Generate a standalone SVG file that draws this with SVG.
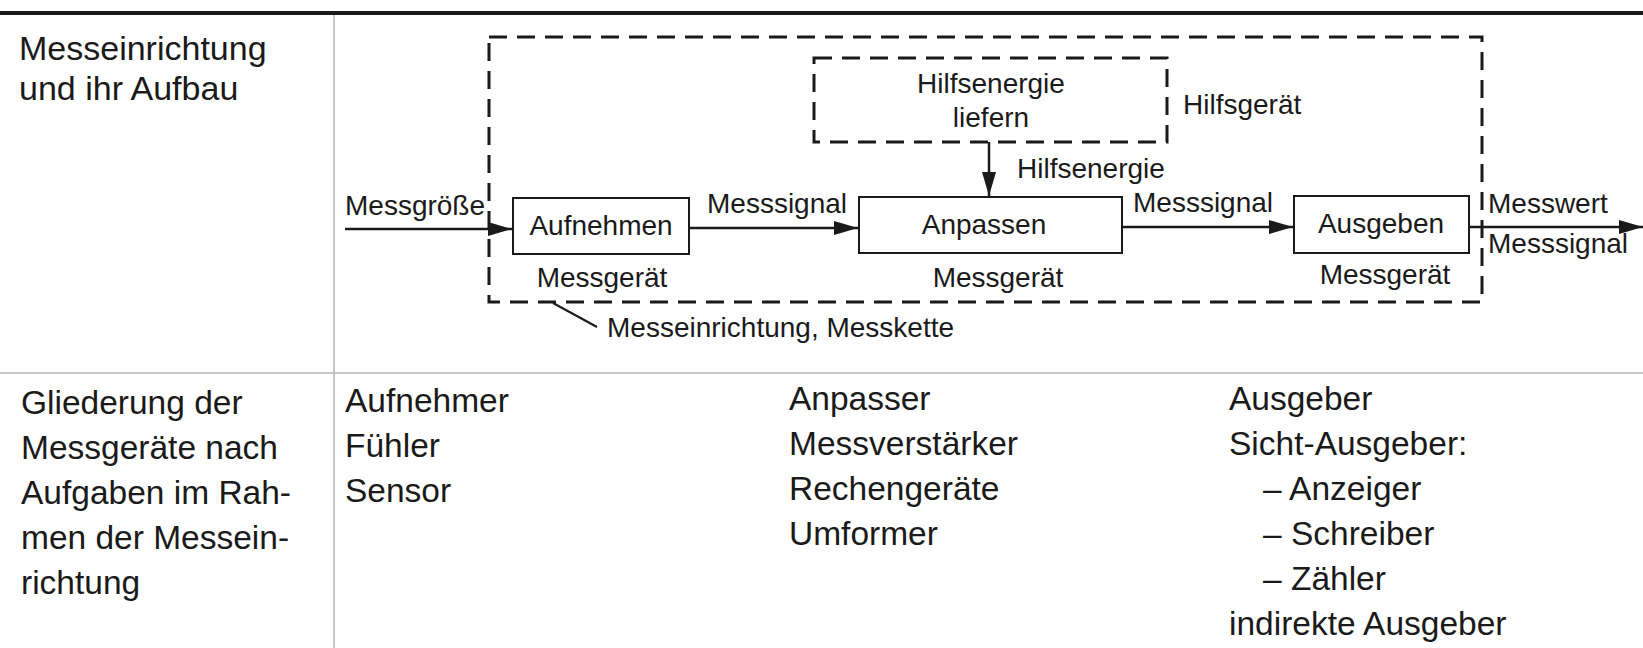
<svg xmlns="http://www.w3.org/2000/svg" width="1643" height="648" viewBox="0 0 1643 648">
<defs>
<style>
text{font-family:"Liberation Sans",Arial,Helvetica,sans-serif;fill:#1a1a1a}
.body{font-size:33.5px}
.lbl{font-size:28px}
.mid{text-anchor:middle}
.box{fill:#fff;stroke:#1a1a1a;stroke-width:2}
.dash{fill:none;stroke:#1a1a1a;stroke-width:3;stroke-dasharray:18 10}
.conn{fill:none;stroke:#1a1a1a;stroke-width:2.5}
.rule{stroke:#b5b5b5;stroke-width:1.5}
</style>
<marker id="arr" markerUnits="userSpaceOnUse" markerWidth="24" markerHeight="14" refX="24" refY="7" orient="auto">
<path d="M0,0 L24,7 L0,14 z" fill="#1a1a1a"/>
</marker>
</defs>
<rect width="1643" height="648" fill="#fff"/>
<g id="table">
<line x1="0" y1="13" x2="1643" y2="13" stroke="#1a1a1a" stroke-width="4"/>
<line class="rule" x1="334" y1="15" x2="334" y2="648"/>
<line class="rule" x1="0" y1="373" x2="1643" y2="373"/>
<text class="body" x="19" y="60" style="font-size:34px">Messeinrichtung</text>
<text class="body" x="19" y="100" style="font-size:34px">und ihr Aufbau</text>
<text class="body" x="21" y="414">Gliederung der</text>
<text class="body" x="21" y="459">Messgeräte nach</text>
<text class="body" x="21" y="504">Aufgaben im Rah-</text>
<text class="body" x="21" y="549">men der Messein-</text>
<text class="body" x="21" y="594">richtung</text>
<text class="body" x="345" y="412">Aufnehmer</text>
<text class="body" x="345" y="457">Fühler</text>
<text class="body" x="345" y="502">Sensor</text>
<text class="body" x="789" y="410">Anpasser</text>
<text class="body" x="789" y="455">Messverstärker</text>
<text class="body" x="789" y="500">Rechengeräte</text>
<text class="body" x="789" y="545">Umformer</text>
<text class="body" x="1229" y="410">Ausgeber</text>
<text class="body" x="1229" y="455">Sicht-Ausgeber:</text>
<text class="body" x="1263" y="500">– Anzeiger</text>
<text class="body" x="1263" y="545">– Schreiber</text>
<text class="body" x="1263" y="590">– Zähler</text>
<text class="body" x="1229" y="635">indirekte Ausgeber</text>
</g>
<g id="messeinrichtung">
<rect class="dash" x="489" y="37" width="993" height="265"/>
<line x1="553" y1="303" x2="597" y2="327" stroke="#1a1a1a" stroke-width="2"/>
<text class="lbl" x="607" y="337">Messeinrichtung, Messkette</text>
</g>
<g id="hilfsgeraet">
<rect class="dash" x="814" y="58" width="353" height="84"/>
<text class="lbl mid" x="991" y="93">Hilfsenergie</text>
<text class="lbl mid" x="991" y="127">liefern</text>
<text class="lbl" x="1183" y="114">Hilfsgerät</text>
</g>
<g id="aufnehmen">
<rect class="box" x="513" y="198" width="176" height="56"/>
<text class="lbl mid" x="601" y="235">Aufnehmen</text>
<text class="lbl mid" x="602" y="287">Messgerät</text>
</g>
<g id="anpassen">
<rect class="box" x="859" y="197" width="263" height="56"/>
<text class="lbl mid" x="984" y="234">Anpassen</text>
<text class="lbl mid" x="998" y="287">Messgerät</text>
</g>
<g id="ausgeben">
<rect class="box" x="1294" y="196" width="175" height="57"/>
<text class="lbl mid" x="1381" y="233">Ausgeben</text>
<text class="lbl mid" x="1385" y="284">Messgerät</text>
</g>
<g id="connectors">
<line class="conn" x1="345" y1="229" x2="512" y2="229" marker-end="url(#arr)"/>
<line class="conn" x1="689" y1="228" x2="858" y2="228" marker-end="url(#arr)"/>
<line class="conn" x1="1122" y1="227" x2="1293" y2="227" marker-end="url(#arr)"/>
<line class="conn" x1="1469" y1="227" x2="1643" y2="227" marker-end="url(#arr)"/>
<line class="conn" x1="989" y1="142" x2="989" y2="196" marker-end="url(#arr)"/>
<text class="lbl" x="345" y="215">Messgröße</text>
<text class="lbl" x="707" y="213">Messsignal</text>
<text class="lbl" x="1133" y="212">Messsignal</text>
<text class="lbl" x="1017" y="178">Hilfsenergie</text>
<text class="lbl" x="1488" y="213">Messwert</text>
<text class="lbl" x="1488" y="253">Messsignal</text>
</g>
</svg>
